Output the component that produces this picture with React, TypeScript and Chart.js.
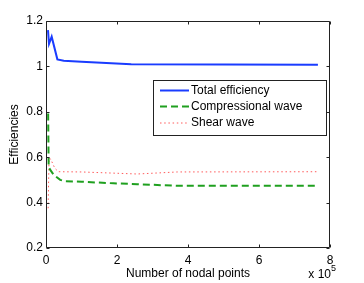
import React, { useEffect, useRef } from 'react';
import { Chart, registerables } from 'chart.js';

Chart.register(...registerables);

const seriesLabels = ['Total efficiency', 'Compressional wave', 'Shear wave'];
const totalX = [5600, 8500, 16000, 32000, 50000, 100000, 240000, 766000];
const totalY = [1.16, 1.099, 1.131, 1.031, 1.025, 1.02, 1.009, 1.007];
const compX = [6000, 7500, 12000, 22000, 40000, 55000, 100000, 190000, 257000, 370000, 766000];
const compY = [0.793, 0.558, 0.544, 0.522, 0.5, 0.494, 0.492, 0.485, 0.481, 0.474, 0.474];
const shearX = [6000, 8500, 13000, 25000, 35000, 100000, 257000, 370000, 766000];
const shearY = [0.375, 0.595, 0.592, 0.551, 0.536, 0.535, 0.526, 0.535, 0.536];
const xTicks = [0, 200000, 400000, 600000, 800000];
const yTicks = [0.2, 0.4, 0.6, 0.8, 1, 1.2];
const xTitle = 'Number of nodal points';
const yTitle = 'Efficiencies';

const FONT = '"Liberation Sans", Arial, Helvetica, sans-serif';

const toPts = (xs: number[], ys: number[]) => xs.map((x, i) => ({ x, y: ys[i] }));

const decor = {
  id: 'decor',
  afterDraw(chart: any) {
    const { ctx, chartArea: a, scales } = chart;
    ctx.save();
    // axes box
    ctx.strokeStyle = '#222';
    ctx.lineWidth = 1;
    const L = Math.round(a.left) + 0.5;
    const R = Math.round(a.right) - 0.5;
    const T = Math.round(a.top) + 0.5;
    const B = Math.round(a.bottom) - 0.5;
    ctx.beginPath();
    ctx.rect(L, T, R - L, B - T);
    ctx.stroke();
    // inward ticks on all sides
    const tl = 3;
    ctx.beginPath();
    xTicks.forEach((v) => {
      const x = Math.round(scales.x.getPixelForValue(v)) + 0.5;
      ctx.moveTo(x, B); ctx.lineTo(x, B - tl);
      ctx.moveTo(x, T); ctx.lineTo(x, T + tl);
    });
    yTicks.forEach((v) => {
      const y = Math.round(scales.y.getPixelForValue(v)) + 0.5;
      ctx.moveTo(L, y); ctx.lineTo(L + tl, y);
      ctx.moveTo(R, y); ctx.lineTo(R - tl, y);
    });
    ctx.stroke();

    // axis titles
    ctx.fillStyle = '#000';
    ctx.font = `12px ${FONT}`;
    ctx.textAlign = 'center';
    ctx.textBaseline = 'alphabetic';
    ctx.fillText(xTitle, (a.left + a.right) / 2, 277);
    ctx.save();
    ctx.translate(18, (a.top + a.bottom) / 2);
    ctx.rotate(-Math.PI / 2);
    ctx.fillText(yTitle, 0, 0);
    ctx.restore();

    // exponent label
    ctx.textAlign = 'right';
    ctx.fillText('x 10', 331, 278);
    ctx.textAlign = 'left';
    ctx.font = `9px ${FONT}`;
    ctx.fillText('5', 331, 271);

    // legend
    const bx = 153.5, by = 80.5, bw = 173, bh = 55;
    ctx.fillStyle = '#fff';
    ctx.fillRect(bx, by, bw, bh);
    ctx.strokeStyle = '#222';
    ctx.lineWidth = 1;
    ctx.strokeRect(bx, by, bw, bh);
    const rows = [90.5, 106.5, 123];
    chart.data.datasets.forEach((ds: any, i: number) => {
      const y = rows[i];
      ctx.save();
      ctx.strokeStyle = ds.borderColor;
      ctx.lineWidth = ds.borderWidth;
      ctx.setLineDash(ds.borderDash || []);
      ctx.beginPath();
      ctx.moveTo(160, y);
      ctx.lineTo(189, y);
      ctx.stroke();
      ctx.restore();
      ctx.fillStyle = '#000';
      ctx.font = `12px ${FONT}`;
      ctx.textAlign = 'left';
      ctx.textBaseline = 'middle';
      ctx.fillText(ds.label, 191, y);
    });
    ctx.restore();
  },
};

export default function App() {
  const ref = useRef<HTMLCanvasElement | null>(null);
  useEffect(() => {
    if (!ref.current) return;
    const chart = new Chart(ref.current, {
      type: 'line',
      data: {
        datasets: [
          {
            label: seriesLabels[0],
            data: toPts(totalX, totalY),
            borderColor: '#1a3cff',
            borderWidth: 2,
            pointRadius: 0,
            fill: false,
            tension: 0,
          },
          {
            label: seriesLabels[1],
            data: toPts(compX, compY),
            borderColor: '#1fa01f',
            borderWidth: 2,
            borderDash: [7, 4],
            pointRadius: 0,
            fill: false,
            tension: 0,
          },
          {
            label: seriesLabels[2],
            data: toPts(shearX, shearY),
            borderColor: '#ff5a5a',
            borderWidth: 1,
            borderDash: [1.5, 2.7],
            pointRadius: 0,
            fill: false,
            tension: 0,
          },
        ],
      },
      options: {
        responsive: false,
        animation: false,
        devicePixelRatio: 1,
        layout: { padding: { top: 21, right: 34, left: 0, bottom: 0 } },
        plugins: { legend: { display: false }, tooltip: { enabled: false } },
        scales: {
          x: {
            type: 'linear',
            min: 0,
            max: 800000,
            grid: { display: false, drawTicks: false },
            border: { display: false },
            afterFit: (s: any) => { s.height = 35; },
            afterBuildTicks: (s: any) => { s.ticks = xTicks.map((v) => ({ value: v })); },
            ticks: {
              padding: 5,
              color: '#000',
              font: { family: FONT, size: 12 },
              maxRotation: 0,
              callback: (v: any) => String(Number(v) / 100000),
            },
          },
          y: {
            type: 'linear',
            min: 0.2,
            max: 1.2,
            grid: { display: false, drawTicks: false },
            border: { display: false },
            afterFit: (s: any) => { s.width = 46; },
            afterBuildTicks: (s: any) => { s.ticks = yTicks.map((v) => ({ value: v })); },
            ticks: {
              padding: 3,
              color: '#000',
              font: { family: FONT, size: 12 },
              callback: (v: any) => String(Math.round(Number(v) * 10) / 10),
            },
          },
        },
      },
      plugins: [decor],
    });
    return () => chart.destroy();
  }, []);
  return (
    <div style={{ position: 'fixed', left: 0, top: 0, width: 364, height: 283, background: '#fff' }}>
      <canvas ref={ref} width={364} height={283} style={{ display: 'block' }} />
    </div>
  );
}
